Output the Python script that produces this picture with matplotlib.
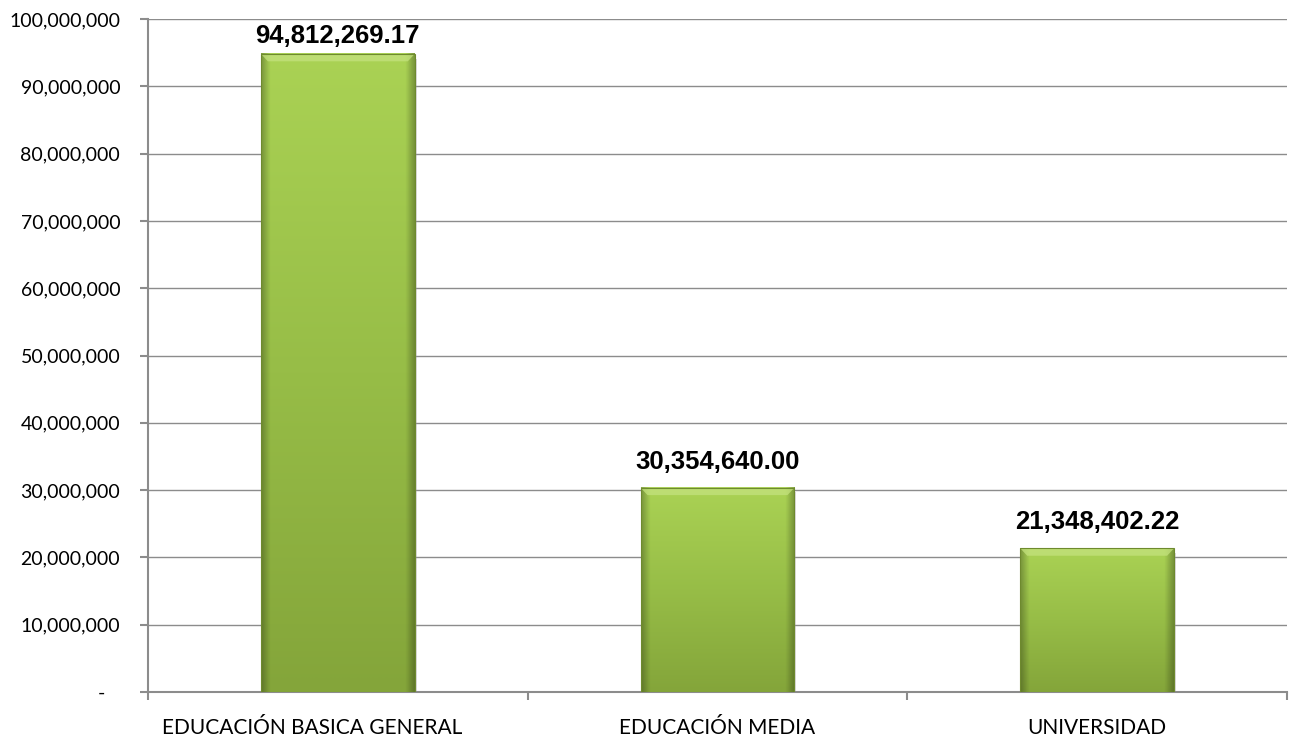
import matplotlib
matplotlib.use("Agg")
import matplotlib.pyplot as plt
import numpy as np
from matplotlib.colors import LinearSegmentedColormap
from matplotlib.ticker import FuncFormatter, FixedLocator, NullFormatter
import matplotlib.transforms as mtransforms

categories = ["EDUCACIÓN BASICA GENERAL", "EDUCACIÓN MEDIA", "UNIVERSIDAD"]
values = [94812269.17, 30354640.00, 21348402.22]
labels = ["94,812,269.17", "30,354,640.00", "21,348,402.22"]
yticks = list(range(0, 100000001, 10000000))
ymax = 100000000

fig = plt.figure(figsize=(12.93, 7.47), dpi=100)
ax_h_px = 692 - 19
ax = fig.add_axes([148/1293, 55/747, (1287-148)/1293, ax_h_px/747])

x = np.arange(len(categories))
bars = ax.bar(x, values, width=0.405, color="#97BD45", edgecolor="none", zorder=3)

cmap = LinearSegmentedColormap.from_list("g", ["#84A53A", "#97BD47", "#AAD254"])
for b in bars:
    x0, w, h = b.get_x(), b.get_width(), b.get_height()
    grad = np.linspace(0, 1, 256).reshape(-1, 1)
    ax.imshow(grad, extent=[x0, x0 + w, 0, h], origin="lower", aspect="auto",
              cmap=cmap, zorder=4, interpolation="bicubic")
    side = np.linspace(-1, 1, 200)
    alpha = np.clip((np.abs(side) - 0.88) / 0.12, 0, 1) * 0.28
    rgba = np.zeros((1, 200, 4))
    rgba[..., 3] = alpha
    ax.imshow(rgba, extent=[x0, x0 + w, 0, h], origin="lower", aspect="auto",
              zorder=5, interpolation="bilinear")
    bh = ymax * 0.011
    dx = w * 0.045
    ax.fill([x0, x0 + w, x0 + w - dx, x0 + dx], [h, h, h - bh, h - bh],
            color="#C4E27E", alpha=0.75, zorder=6, linewidth=0)
    ax.add_patch(plt.Rectangle((x0, 0), w, h, fill=False, edgecolor="#6E8A2E",
                               linewidth=0.8, zorder=7))
    ax.add_patch(plt.Rectangle((x0 + 0.005, -700000), w, h, facecolor="#999999",
                               alpha=0.35, edgecolor="none", zorder=2))

for xi, v, lab in zip(x, values, labels):
    avail_px = (ymax - v) * ax_h_px / ymax
    off_px = min(14, avail_px - 29)
    ax.annotate(lab, (xi, v), xytext=(0, off_px * 0.72), textcoords="offset points",
                ha="center", va="bottom", fontsize=18.5, fontweight="bold",
                family="Liberation Sans", color="#000000", zorder=8)

ax.set_xlim(-0.5, 2.5)
ax.set_ylim(0, ymax)
ax.set_yticks(yticks)

def fmt(v, pos):
    if v == 0:
        return "-   "
    return f"{int(v):,}"

ax.yaxis.set_major_formatter(FuncFormatter(fmt))
ax.yaxis.grid(True, color="#8C8C8C", linewidth=1.0, zorder=0)
ax.set_axisbelow(True)

ax.set_xticks(x)
ax.set_xticklabels(categories)
ax.xaxis.set_minor_locator(FixedLocator([-0.5, 0.5, 1.5, 2.5]))
ax.xaxis.set_minor_formatter(NullFormatter())
ax.tick_params(axis="x", which="major", length=0, pad=19, labelsize=15, labelcolor="#000000")
ax.tick_params(axis="x", which="minor", length=6, width=1.5, color="#8C8C8C", direction="out")
ax.tick_params(axis="y", length=6, width=1.5, color="#8C8C8C", direction="out", pad=14, labelsize=14)
for lab in ax.get_xticklabels() + ax.get_yticklabels():
    lab.set_family("Lato")

first = ax.get_xticklabels()[0]
first.set_transform(first.get_transform() + mtransforms.ScaledTranslation(-26/100, 0, fig.dpi_scale_trans))

for s in ["top", "right"]:
    ax.spines[s].set_visible(False)
for s in ["left", "bottom"]:
    ax.spines[s].set_color("#8C8C8C")
    ax.spines[s].set_linewidth(1.5)

fig.savefig("out.png", dpi=100)
